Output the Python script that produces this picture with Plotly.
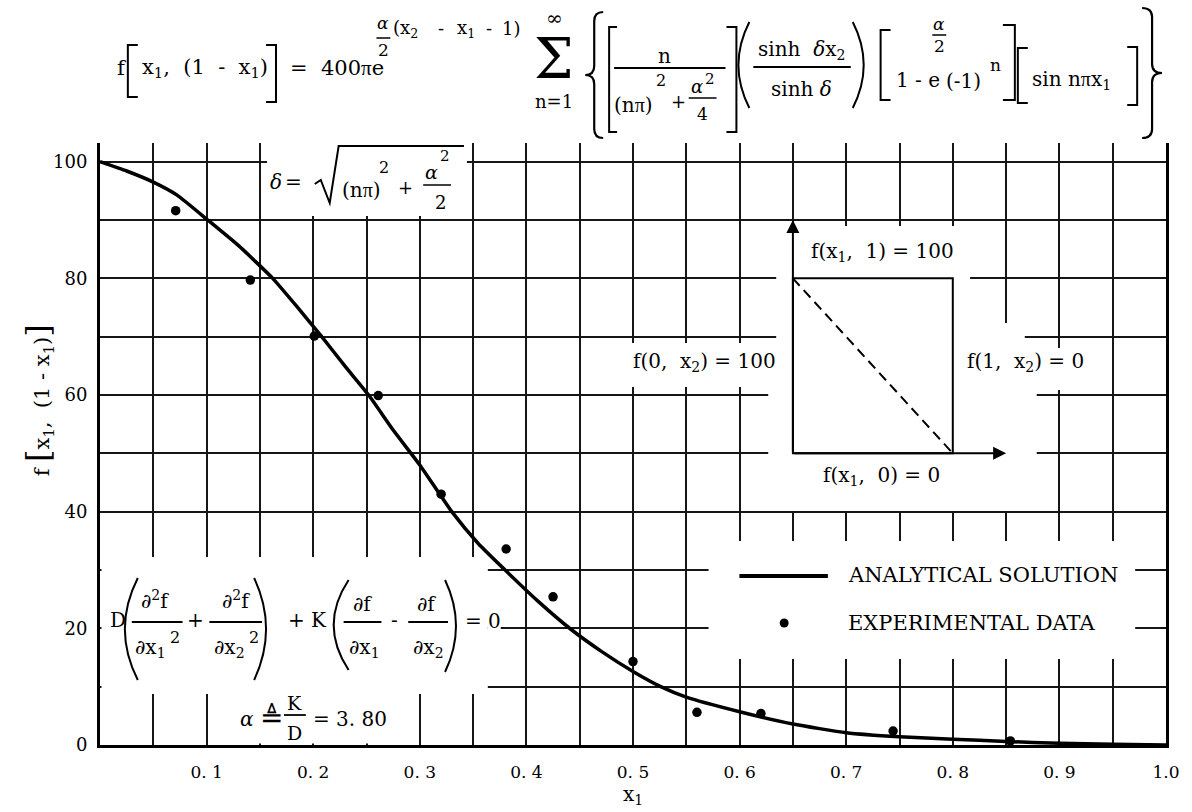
import plotly.graph_objects as go

# ---------------------------------------------------------------------------
# Data: field f along the diagonal x2 = 1 - x1
# ---------------------------------------------------------------------------
curve_x1 = [0.0, 0.025, 0.05, 0.072, 0.101, 0.13, 0.162, 0.185, 0.208,
            0.23, 0.252, 0.275, 0.30, 0.33, 0.355, 0.38, 0.41, 0.442,
            0.47, 0.50, 0.526, 0.55, 0.60, 0.65, 0.70, 0.75, 0.80, 0.85,
            0.90, 0.95, 1.0]
curve_f = [100.0, 98.4, 96.5, 94.3, 90.0, 85.6, 80.0, 75.1, 70.0,
           64.9, 60.0, 54.0, 48.0, 40.0, 34.5, 30.0, 24.8, 19.8,
           16.1, 12.6, 10.0, 8.2, 5.7, 3.6, 2.1, 1.4, 1.0, 0.6,
           0.3, 0.15, 0.0]

exp_x1 = [0.071, 0.141, 0.201, 0.261, 0.320, 0.381, 0.425, 0.500, 0.560,
          0.620, 0.744, 0.854]
exp_f = [91.6, 79.7, 70.1, 59.9, 43.0, 33.6, 25.4, 14.3, 5.6, 5.4, 2.4, 0.7]

x_tick_vals = [0.1, 0.2, 0.3, 0.4, 0.5, 0.6, 0.7, 0.8, 0.9, 1.0]
x_tick_text = ["0. 1", "0. 2", "0. 3", "0. 4", "0. 5", "0. 6", "0. 7",
               "0. 8", "0. 9", "1.0"]
y_tick_vals = [0, 20, 40, 60, 80, 100]
y_tick_text = ["0", "20", "40", "60", "80", "100"]

# Boundary-condition sketch (unit square drawn inside the grid)
sketch_x = [0.65, 0.80, 0.85]     # left edge, right edge, x1-arrow tip
sketch_y = [50, 80, 90]           # bottom edge, top edge, x2-arrow tip

# ---------------------------------------------------------------------------
# Page geometry (pixels) and helpers
# ---------------------------------------------------------------------------
W, H = 1192, 812
PL, PR, PT, PB = 100, 1172, 143, 745
Y_MAX = 103.2

SERIF = "DejaVu Serif"
INK = "#000000"
PI = "<span style='font-family:Liberation Serif'>π</span>"

annotations = []
shapes = []


def fx(p):
    return (p - PL) / (PR - PL)


def fy(p):
    return (PB - p) / (PB - PT)


def dy(p):
    return fy(p) * Y_MAX


def pt(x, y):
    return f"{fx(x):.5f},{fy(y):.5f}"


def text(s, x, y, size=20, anchor="left", angle=0):
    annotations.append(dict(
        text=s, x=fx(x), y=fy(y), xref="paper", yref="paper",
        xanchor=anchor, yanchor="middle", showarrow=False, textangle=angle,
        font=dict(family=SERIF, size=size, color=INK)))


def seg(x0, y0, x1, y1, w=1.8):
    shapes.append(dict(type="line", xref="paper", yref="paper",
                       x0=fx(x0), y0=fy(y0), x1=fx(x1), y1=fy(y1),
                       line=dict(color=INK, width=w)))


def path(d, w=1.8):
    shapes.append(dict(type="path", xref="paper", yref="paper", path=d,
                       line=dict(color=INK, width=w)))


def bracket_l(x0, x1, y0, y1, w=2):
    path(f"M{pt(x1, y0)} L{pt(x0, y0)} L{pt(x0, y1)} L{pt(x1, y1)}", w)


def bracket_r(x0, x1, y0, y1, w=2):
    path(f"M{pt(x0, y0)} L{pt(x1, y0)} L{pt(x1, y1)} L{pt(x0, y1)}", w)


def paren_l(x0, x1, y0, y1, w=2):
    ym = (y0 + y1) / 2
    path(f"M{pt(x1, y0)} Q{pt(2 * x0 - x1, ym)} {pt(x1, y1)}", w)


def paren_r(x0, x1, y0, y1, w=2):
    ym = (y0 + y1) / 2
    path(f"M{pt(x0, y0)} Q{pt(2 * x1 - x0, ym)} {pt(x0, y1)}", w)


def brace(x0, x1, y0, y1, left=True, w=2.2):
    xc = (x0 + x1) / 2
    ym = (y0 + y1) / 2
    d = 9
    xo, xi = (x1, x0) if left else (x0, x1)
    path(f"M{pt(xo, y0)} Q{pt(xc, y0)} {pt(xc, y0 + d)} L{pt(xc, ym - d)} "
         f"Q{pt(xc, ym)} {pt(xi, ym)} Q{pt(xc, ym)} {pt(xc, ym + d)} "
         f"L{pt(xc, y1 - d)} Q{pt(xc, y1)} {pt(xo, y1)}", w)


def blank(x0, y0, x1, y1):
    # white patch above the grid, below the data
    shapes.append(dict(type="rect", xref="x", yref="y", layer="between",
                       x0=fx(x0), x1=fx(x1), y0=dy(y1), y1=dy(y0),
                       fillcolor="white", line=dict(width=0)))


# ---------------------------------------------------------------------------
# Solution formula across the top
# ---------------------------------------------------------------------------
text("f", 115, 68, 21)
bracket_l(128, 138, 45, 97)
text("x<sub>1</sub>,  (1  -  x<sub>1</sub>)", 140, 68, 21)
bracket_r(267, 277, 45, 102)
text(f"=  400{PI}e", 289, 68, 21)
text("<i>α</i>", 385, 23, 17, "center")
seg(378, 38, 392, 38, 1.5)
text("2", 385, 50, 17, "center")
text("(x<sub>2</sub>", 393, 29, 18)
text("-", 443, 29, 18, "center")
text("x<sub>1</sub>", 457, 29, 18)
text("-", 491, 29, 18, "center")
text("1)", 502, 29, 18)

text("∞", 557, 18, 20, "center")
text("Σ", 557, 59, 56, "center")
text("n=1", 557, 101, 18, "center")

brace(588, 606, 12, 138, left=True)
bracket_l(612, 620, 27, 132)
text("n", 668, 56, 20, "center")
seg(617, 68, 729, 68)
text(f"(n{PI})", 615, 105)
text("2", 664, 80, 16, "center")
text("+", 682, 102, 18, "center")
text("<i>α</i>", 700, 86, 18, "center")
text("2", 713, 79, 15, "center")
seg(692, 98, 720, 98, 1.5)
text("4", 706, 114, 17, "center")
bracket_r(730, 740, 27, 132)

paren_l(742, 753, 22, 108)
text("sinh  <i>δ</i>x<sub>2</sub>", 760, 50)
seg(757, 67, 855, 67)
text("sinh <i>δ</i>", 773, 89)
paren_r(857, 868, 22, 108)

bracket_l(885, 895, 30, 100)
text("1 - e", 898, 80)
text("<i>α</i>", 944, 24, 17, "center")
seg(937, 35, 951, 35, 1.5)
text("2", 944, 46, 17, "center")
text("(-1)", 949, 81)
text("n", 1001, 65, 17, "center")
bracket_r(1008, 1020, 25, 100)
bracket_l(1023, 1033, 48, 103)
text(f"sin n{PI}x<sub>1</sub>", 1035, 80)
bracket_r(1133, 1143, 47, 105)
brace(1148, 1168, 8, 138, left=False)

# delta definition (upper left of the grid)
text("<i>δ</i>", 277, 182, 20, "center")
text("=", 295, 182, 20, "center")
path(f"M{pt(316, 184)} L{pt(322, 180)} L{pt(331, 203)} L{pt(340, 146)} "
     f"L{pt(466, 146)}", 2)
text(f"(n{PI})", 341, 190)
text("2", 386, 167, 16, "center")
text("+", 407, 187, 18, "center")
text("<i>α</i>", 433, 172, 19, "center")
text("2", 447, 156, 15, "center")
seg(425, 185, 453, 185, 1.5)
text("2", 442, 202, 18, "center")

# governing equation (lower left)
text("D", 108, 620)
paren_l(125, 138, 578, 680)
text("∂<sup>2</sup>f", 155, 600, 20, "center")
seg(132, 622, 183, 622)
text("∂x<sub>1</sub>", 133, 648)
text("2", 175, 637, 16, "center")
text("+", 196, 620, 20, "center")
text("∂<sup>2</sup>f", 237, 600, 20, "center")
seg(210, 622, 263, 622)
text("∂x<sub>2</sub>", 213, 648)
text("2", 255, 637, 16, "center")
paren_r(255, 267, 578, 680)
text("+ K", 287, 620)
paren_l(335, 350, 580, 670)
text("∂f", 364, 604, 20, "center")
seg(345, 622, 383, 622)
text("∂x<sub>1</sub>", 348, 648)
text("-", 396, 620, 20, "center")
text("∂f", 428, 604, 20, "center")
seg(410, 622, 450, 622)
text("∂x<sub>2</sub>", 413, 648)
paren_r(447, 458, 580, 672)
text("= 0", 465, 621)

text("<i>α</i>", 248, 719, 20, "center")
text("≜", 272, 717, 28, "center")
text("K", 296, 703, 19, "center")
seg(285, 715, 307, 715)
text("D", 296, 733, 19, "center")
text("= 3. 80", 312, 719)

# boundary-condition labels of the sketch
text("f(x<sub>1</sub>,  1) = 100", 813, 252)
text("f(0,  x<sub>2</sub>) = 100", 782, 362, 20, "right")
text("f(1,  x<sub>2</sub>) = 0", 970, 362)
text("f(x<sub>1</sub>,  0) = 0", 825, 476)

# key
seg(743, 576, 832, 576, 4)
text("ANALYTICAL SOLUTION", 850, 575, 21)
shapes.append(dict(type="circle", xref="paper", yref="paper",
                   x0=fx(783.5), x1=fx(792.5), y0=fy(627.5), y1=fy(618.5),
                   fillcolor=INK, line=dict(color=INK, width=0)))
text("EXPERIMENTAL DATA", 850, 623, 21)

# axis titles
text("f <span style='font-size:32px'>[</span>x<sub>1</sub>,  (1 - x<sub>1</sub>)"
     "<span style='font-size:32px'>]</span>", 38, 400, 21, "center", -90)
text("x<sub>1</sub>", 636, 795, 20, "center")

# white patches that interrupt the grid behind the lettering
blank(268, 130, 469, 216)      # delta definition
blank(101.5, 557, 490, 694)    # governing equation
blank(490, 605, 503, 640)
blank(236, 694, 395, 743.5)    # alpha value
blank(712, 541, 1141, 659)     # key
blank(630, 343, 785, 387)      # sketch labels and interior
blank(780, 226, 975, 323)
blank(780, 323, 1030, 390)
blank(772, 390, 1042, 511)
blank(1040, 348, 1100, 390)

# sketch: square, diagonal and coordinate arrows
shapes.append(dict(type="rect", xref="x", yref="y", layer="above",
                   x0=sketch_x[0], x1=sketch_x[1], y0=sketch_y[0], y1=sketch_y[1],
                   line=dict(color=INK, width=2)))
shapes.append(dict(type="line", xref="x", yref="y",
                   x0=sketch_x[0], y0=sketch_y[1], x1=sketch_x[1], y1=sketch_y[0],
                   line=dict(color=INK, width=2, dash="10px,6px")))
annotations.append(dict(x=sketch_x[0], y=sketch_y[2], ax=sketch_x[0], ay=sketch_y[0],
                        xref="x", yref="y", axref="x", ayref="y", text="",
                        showarrow=True, arrowhead=2, arrowsize=1.3, arrowwidth=2,
                        arrowcolor=INK, standoff=0, startstandoff=0))
annotations.append(dict(x=sketch_x[2], y=sketch_y[0], ax=sketch_x[0], ay=sketch_y[0],
                        xref="x", yref="y", axref="x", ayref="y", text="",
                        showarrow=True, arrowhead=2, arrowsize=1.3, arrowwidth=2,
                        arrowcolor=INK, standoff=0, startstandoff=0))

# ---------------------------------------------------------------------------
# Figure
# ---------------------------------------------------------------------------
fig = go.Figure()
fig.add_trace(go.Scatter(x=curve_x1, y=curve_f, mode="lines",
                         line=dict(color=INK, width=3.5, shape="spline",
                                   smoothing=0.5),
                         name="ANALYTICAL SOLUTION", hoverinfo="skip"))
fig.add_trace(go.Scatter(x=exp_x1, y=exp_f, mode="markers",
                         marker=dict(color=INK, size=9.5),
                         name="EXPERIMENTAL DATA"))

grid = dict(showgrid=True, gridcolor="#161616", gridwidth=1.6)
fig.update_xaxes(range=[0, 1], tickmode="array", tickvals=x_tick_vals,
                 ticktext=x_tick_text, ticks="", showline=True, linewidth=3,
                 linecolor=INK, zeroline=False, ticklabelstandoff=10,
                 tickfont=dict(family=SERIF, size=17, color=INK),
                 minor=dict(tickmode="linear", tick0=0, dtick=0.05, **grid),
                 **grid)
fig.update_yaxes(range=[0, Y_MAX], tickmode="array", tickvals=y_tick_vals,
                 ticktext=y_tick_text, ticks="", showline=True, mirror=True,
                 linewidth=3, linecolor=INK, zeroline=False,
                 ticklabelstandoff=6,
                 tickfont=dict(family=SERIF, size=18, color=INK),
                 minor=dict(tickmode="linear", tick0=0, dtick=10, **grid),
                 **grid)
fig.update_layout(width=W, height=H, autosize=False, showlegend=False,
                  margin=dict(l=PL, r=W - PR, t=PT, b=H - PB, pad=0),
                  plot_bgcolor="white", paper_bgcolor="white",
                  annotations=annotations, shapes=shapes)

fig.write_html("out.html")
